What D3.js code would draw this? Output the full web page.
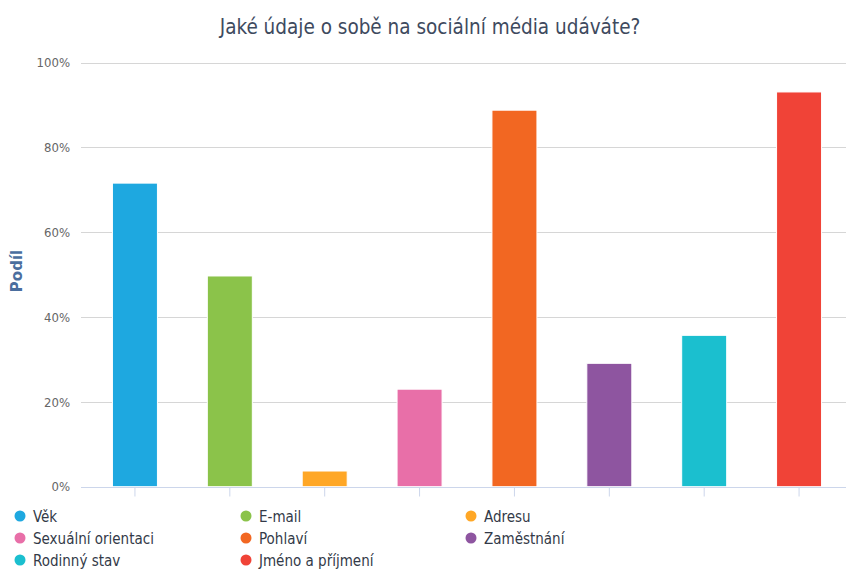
<!DOCTYPE html>
<html>
<head>
<meta charset="utf-8">
<script src="https://cdn.jsdelivr.net/npm/d3@7"></script>
<style>
  html, body { margin: 0; padding: 0; background: #fff; }
  svg { display: block; font-family: "DejaVu Sans Condensed", "DejaVu Sans", sans-serif; }
</style>
</head>
<body>
<svg id="chart" width="846" height="570"></svg>
<script>
// Survey answers: share of respondents who give each detail on social media
const categories = ["Věk", "E-mail", "Adresu", "Sexuální orientaci", "Pohlaví", "Zaměstnání", "Rodinný stav", "Jméno a příjmení"];
const values = [71.6, 49.7, 3.7, 23.0, 88.8, 29.1, 35.7, 93.1];
const colors = ["#1ea8e0", "#8bc34a", "#ffa726", "#e86fa8", "#f26722", "#8e55a0", "#1bbfcf", "#f04337"];
const yTicks = [0, 20, 40, 60, 80, 100];
const title = "Jaké údaje o sobě na sociální média udáváte?";
const yTitle = "Podíl";

const svg = d3.select("#chart");

const plot = { left: 81, right: 846, top: 62.7, bottom: 486.7 };

const y = d3.scaleLinear().domain([0, 100]).range([plot.bottom, plot.top]);

const p = 1 - 45 / 94.875;
const x = d3.scaleBand()
  .domain(categories)
  .range([87.5, 846.5])
  .paddingInner(p)
  .paddingOuter(p / 2);

// Title
svg.append("text")
  .attr("x", 430)
  .attr("y", 34)
  .attr("text-anchor", "middle")
  .attr("fill", "#3e4a5e")
  .attr("font-size", 20.5)
  .text(title);

// Horizontal grid lines
svg.append("g")
  .selectAll("line")
  .data(yTicks.filter(d => d > 0))
  .join("line")
  .attr("x1", plot.left)
  .attr("x2", plot.right)
  .attr("y1", d => Math.round(y(d)) + 0.5)
  .attr("y2", d => Math.round(y(d)) + 0.5)
  .attr("stroke", "#d6d6d6")
  .attr("stroke-width", 1);

// Y axis labels
const yAxis = d3.axisLeft(y)
  .tickValues(yTicks)
  .tickSize(0)
  .tickPadding(0)
  .tickFormat(d => d + "%");
const yg = svg.append("g")
  .attr("transform", `translate(70,0)`)
  .call(yAxis);
yg.select(".domain").remove();
yg.selectAll("text")
  .attr("fill", "#666666")
  .attr("font-size", 13)
  .attr("font-family", "DejaVu Sans Condensed, DejaVu Sans, sans-serif");

// Y axis title
svg.append("text")
  .attr("transform", `translate(22,271) rotate(-90)`)
  .attr("text-anchor", "middle")
  .attr("fill", "#4a6e9e")
  .attr("font-weight", "bold")
  .attr("font-size", 15)
  .attr("font-family", "DejaVu Sans, sans-serif")
  .text(yTitle);

// Bars
svg.append("g")
  .selectAll("rect")
  .data(categories)
  .join("rect")
  .attr("x", d => x(d))
  .attr("y", (d, i) => y(values[i]))
  .attr("width", x.bandwidth())
  .attr("height", (d, i) => plot.bottom - y(values[i]))
  .attr("fill", (d, i) => colors[i])
  .attr("stroke", "#ffffff")
  .attr("stroke-width", 1);

// X axis line and category ticks
const xAxis = d3.axisBottom(x).tickSize(9).tickFormat("");
const xg = svg.append("g")
  .attr("transform", `translate(0,${Math.round(plot.bottom) + 0.5})`)
  .call(xAxis);
xg.select(".domain")
  .attr("d", `M${plot.left},0H${plot.right}`)
  .attr("stroke", "#ccd6eb");
xg.selectAll(".tick line").attr("stroke", "#ccd6eb");

// Legend
const legendCols = [20, 246, 471];
const legendRows = [517, 539, 561];
const legend = svg.append("g")
  .selectAll("g")
  .data(categories)
  .join("g")
  .attr("transform", (d, i) => `translate(${legendCols[i % 3]},${legendRows[Math.floor(i / 3)]})`);
legend.append("circle")
  .attr("r", 5.5)
  .attr("cx", 0)
  .attr("cy", -1)
  .attr("fill", (d, i) => colors[i]);
legend.append("text")
  .attr("x", 13)
  .attr("y", 4.5)
  .attr("fill", "#333a48")
  .attr("font-size", 15)
  .text(d => d);
</script>
</body>
</html>
